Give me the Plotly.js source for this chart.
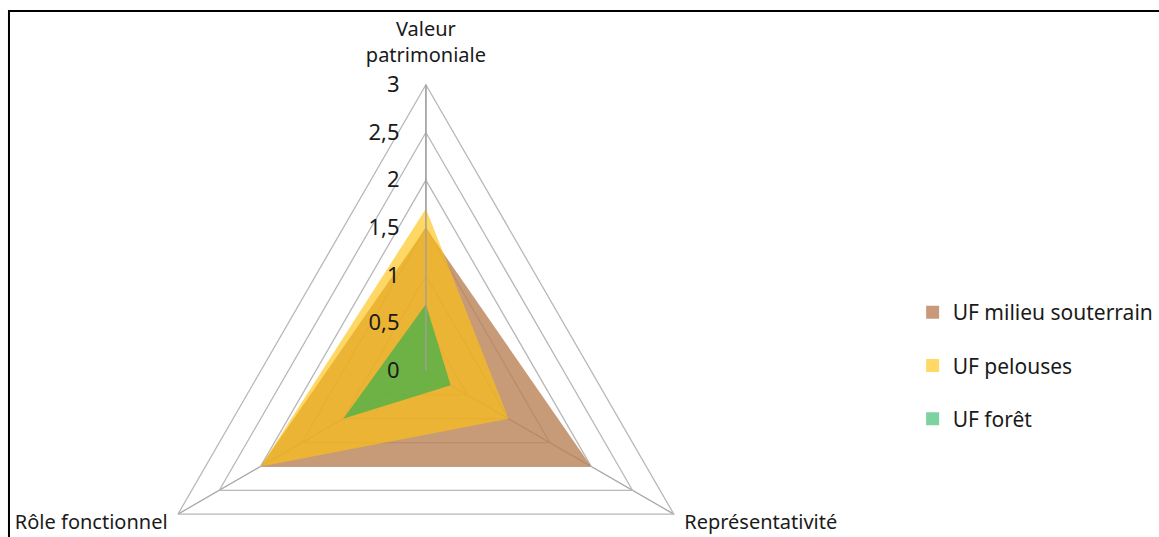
<!DOCTYPE html>
<html>
<head>
<meta charset="utf-8">
<script src="https://cdn.plot.ly/plotly-3.0.1.min.js"></script>
<style>
html,body{margin:0;padding:0;overflow:hidden;background:#fff;}
#chart{width:1159px;height:700px;}
</style>
</head>
<body>
<div id="chart"></div>
<script>
// Data
var categories = ['Valeur patrimoniale', 'Représentativité', 'Rôle fonctionnel'];
var categoryLabels = ['Valeur<br>patrimoniale', '\u00a0\u00a0Représentativité', 'Rôle fonctionnel\u00a0\u00a0'];
var seriesNames = ['UF milieu souterrain', 'UF pelouses', 'UF forêt'];
var souterrain = [1.5, 2, 2];
var pelouses = [1.7, 1, 2];
var foret = [0.7, 0.3, 1];
var radialTicks = [0, 0.5, 1, 1.5, 2, 2.5, 3];
var rMax = 3;

var fills = ['rgba(186,130,86,0.8)', 'rgba(255,194,17,0.65)', 'rgba(27,177,82,0.6)'];
var legendColors = ['#c89a7a', '#ffd966', '#7dd3a0'];
var allSeries = [souterrain, pelouses, foret];

var W = 1159, H = 700;
var cx = 427, cy = 371, R = 287;

function closed(a){ return a.concat([a[0]]); }

var traces = allSeries.map(function(vals, i){
  return {
    type: 'scatterpolar',
    r: closed(vals),
    theta: closed(categories),
    name: seriesNames[i],
    mode: 'lines',
    fill: 'toself',
    fillcolor: fills[i],
    line: {width: 0, color: 'rgba(0,0,0,0)'},
    showlegend: false,
    legendgroup: 'g' + i,
    hoverinfo: 'name+r+theta'
  };
});

// legend-only entries (square swatches)
seriesNames.forEach(function(n, i){
  traces.push({
    type: 'scatterpolar',
    r: [null], theta: [null],
    name: n,
    mode: 'markers',
    marker: {symbol: 'square', size: 13, color: legendColors[i]},
    legendgroup: 'g' + i,
    showlegend: true
  });
});

// category labels at the outer vertices
traces.push({
  type: 'scatterpolar',
  r: categories.map(function(){ return rMax; }),
  theta: categories,
  mode: 'markers+text',
  text: categoryLabels,
  textposition: ['top center', 'bottom right', 'bottom left'],
  textfont: {size: 20, color: '#1a1a1a'},
  marker: {size: [27, 0, 0], color: 'rgba(0,0,0,0)'},
  cliponaxis: false,
  showlegend: false,
  hoverinfo: 'skip'
});

var layout = {
  width: W, height: H,
  margin: {l: 0, r: 0, t: 0, b: 0},
  paper_bgcolor: '#ffffff',
  separators: ',.',
  font: {family: '"Noto Sans", "Open Sans", sans-serif', color: '#1a1a1a', size: 18},
  showlegend: true,
  legend: {
    x: 915 / W, xanchor: 'left',
    y: (H - 292) / H, yanchor: 'top',
    font: {size: 21, color: '#1a1a1a'},
    tracegroupgap: 23,
    traceorder: 'grouped',
    itemwidth: 30,
    bgcolor: 'rgba(0,0,0,0)'
  },
  polar: {
    domain: {x: [(cx - R) / W, (cx + R) / W], y: [(H - cy - R) / H, (H - cy + R) / H]},
    gridshape: 'linear',
    bgcolor: 'rgba(0,0,0,0)',
    radialaxis: {
      range: [0, rMax],
      tickvals: radialTicks,
      ticktext: radialTicks.map(function(v){ return String(v).replace('.', ','); }),
      angle: 90,
      tickangle: 90,
      side: 'counterclockwise',
      showline: true,
      linecolor: '#a0a0a0',
      linewidth: 1.3,
      gridcolor: '#b8b8b8',
      gridwidth: 1.3,
      ticks: 'outside',
      ticklen: 18,
      tickcolor: 'rgba(0,0,0,0)',
      tickfont: {size: 22, color: '#1a1a1a'},
      layer: 'above traces'
    },
    angularaxis: {
      direction: 'clockwise',
      rotation: 90,
      showline: true,
      linecolor: '#b8b8b8',
      linewidth: 1.3,
      gridcolor: '#a8a8a8',
      gridwidth: 1.3,
      ticks: '',
      showticklabels: false,
      layer: 'above traces'
    }
  },
  shapes: [{
    type: 'rect', xref: 'paper', yref: 'paper',
    x0: 9 / W, x1: 1.01, y0: -0.01, y1: (H - 11) / H,
    line: {color: '#000000', width: 2}
  }]
};

Plotly.newPlot('chart', traces, layout, {displayModeBar: false, staticPlot: true});
</script>
</body>
</html>
